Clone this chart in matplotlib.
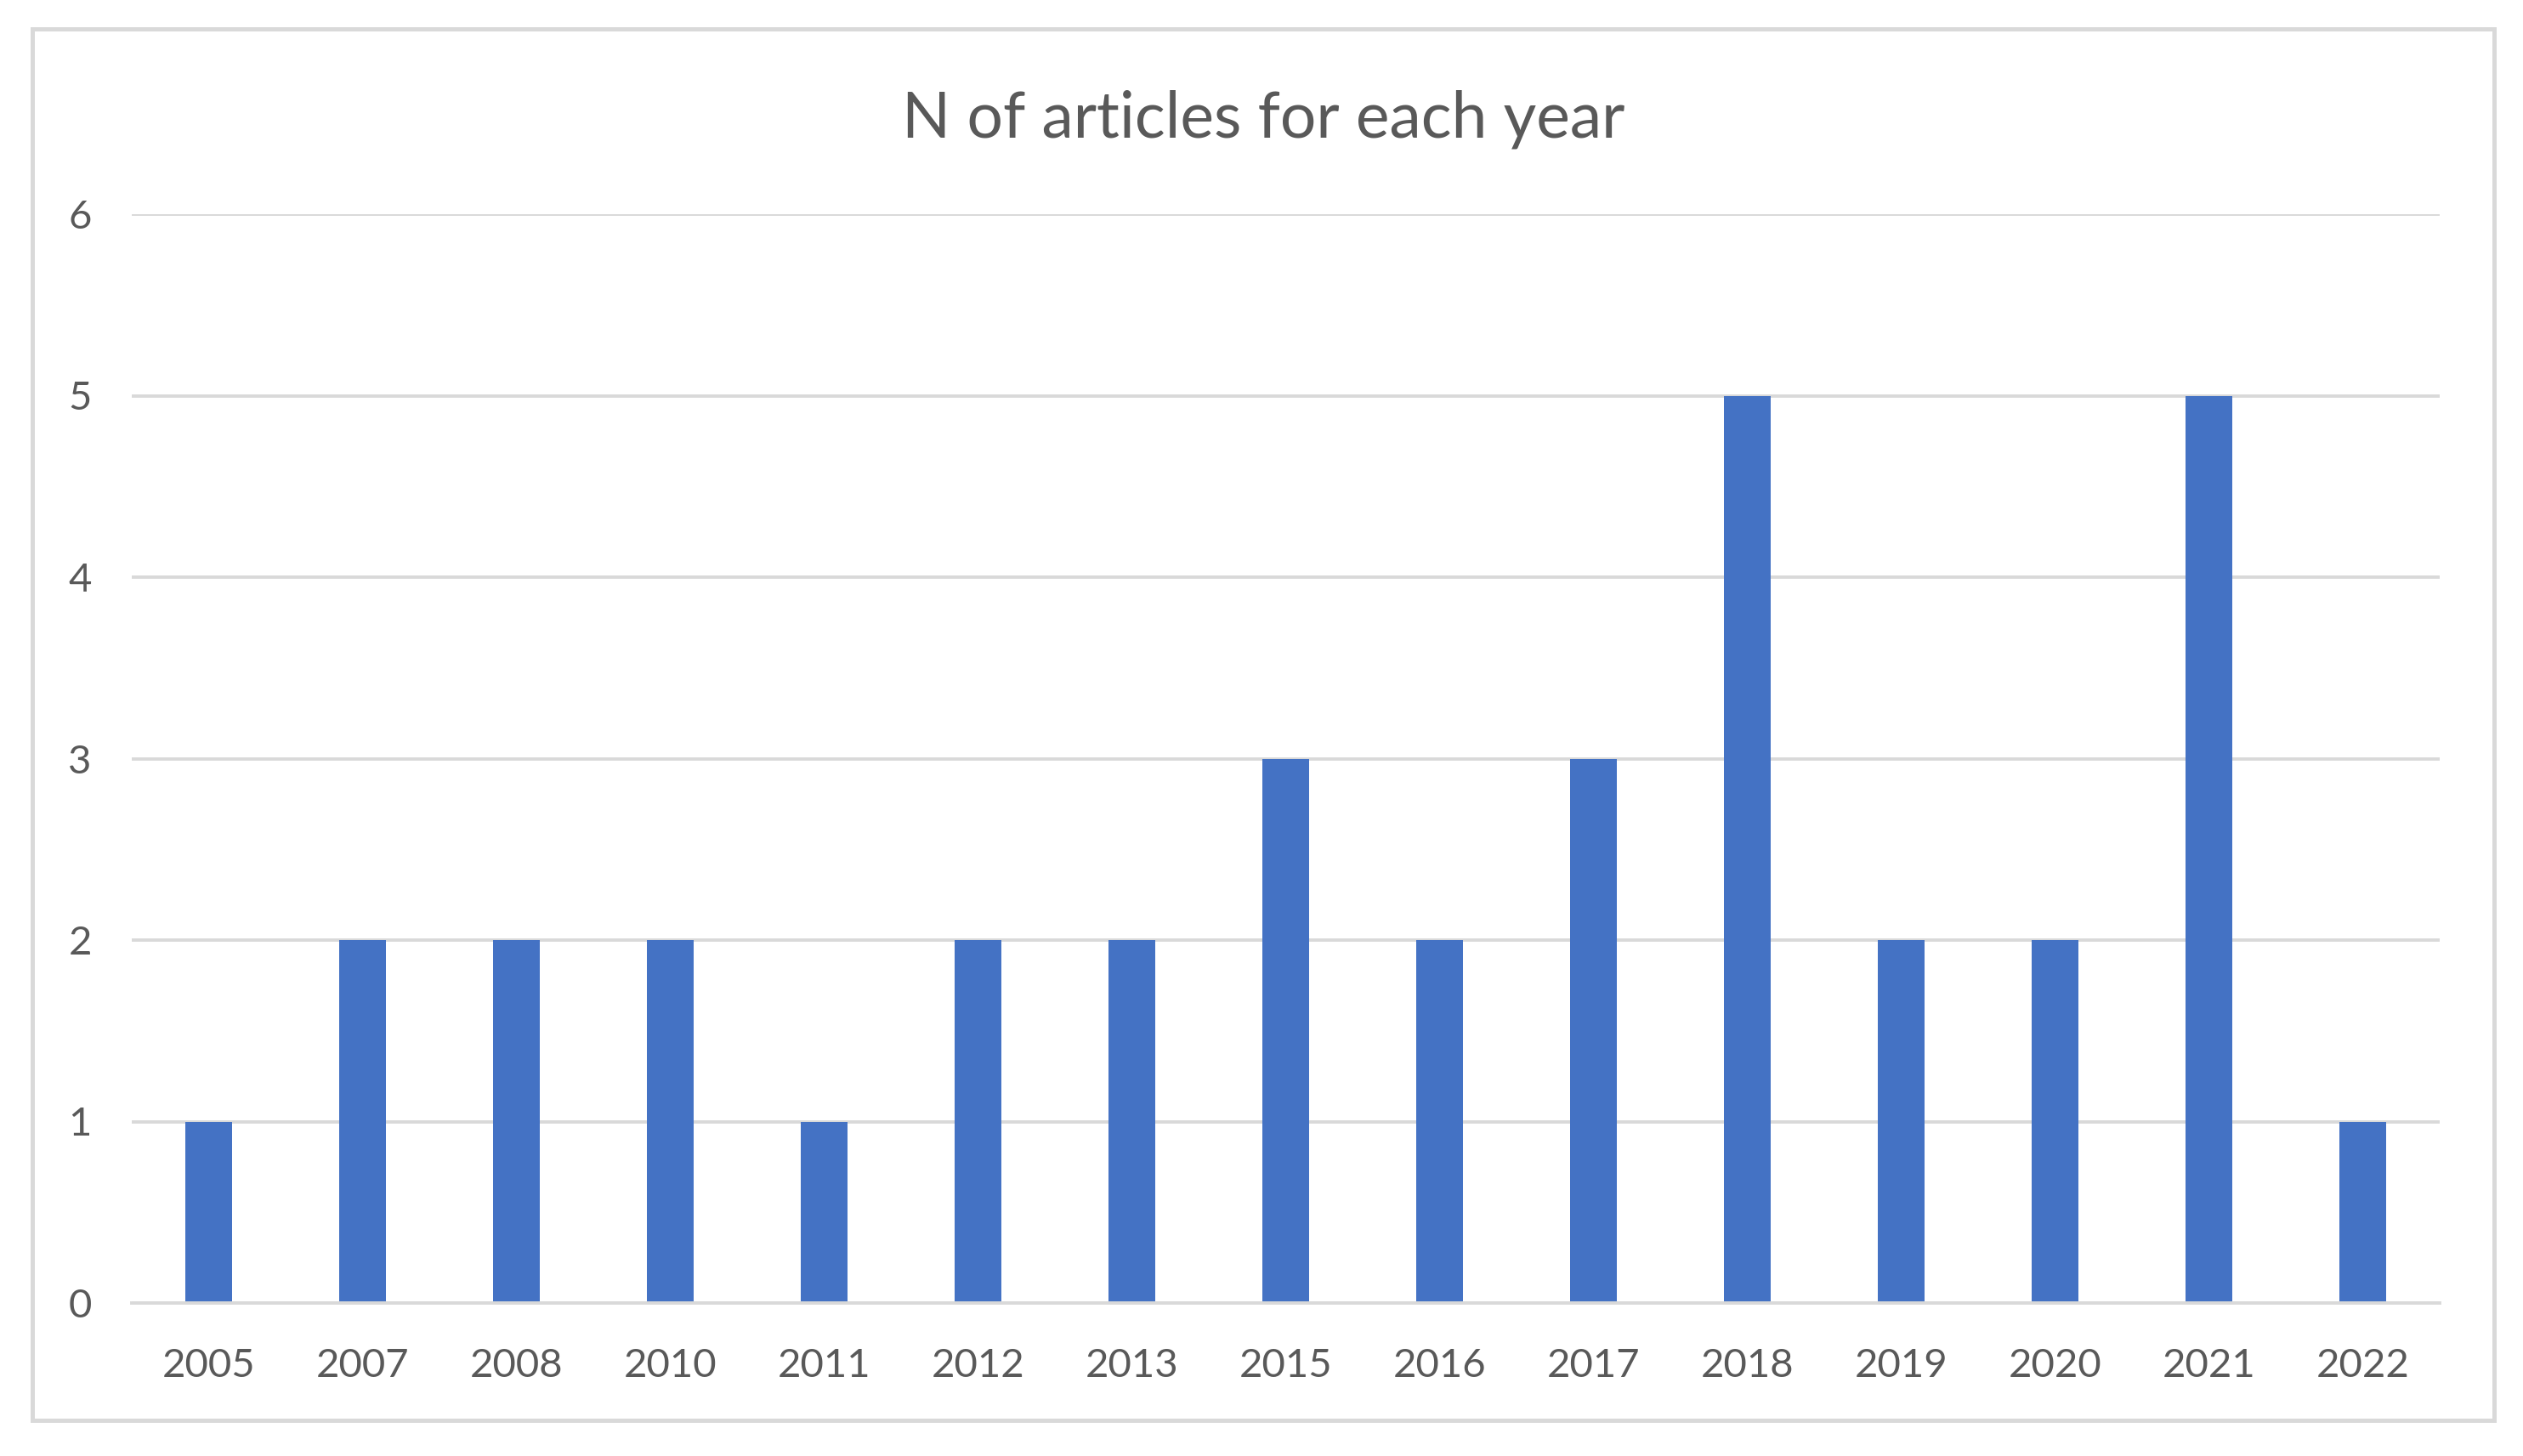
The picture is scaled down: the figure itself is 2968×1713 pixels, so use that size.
import matplotlib
matplotlib.use("Agg")
import matplotlib.pyplot as plt
from matplotlib.patches import Rectangle

years = ["2005", "2007", "2008", "2010", "2011", "2012", "2013", "2015",
         "2016", "2017", "2018", "2019", "2020", "2021", "2022"]
counts = [1, 2, 2, 2, 1, 2, 2, 3, 2, 3, 5, 2, 2, 5, 1]
yticks = [0, 1, 2, 3, 4, 5, 6]

W, H, DPI = 2968, 1713, 200
plt.rcParams['font.family'] = ['Lato', 'DejaVu Sans']
fig = plt.figure(figsize=(W / DPI, H / DPI), dpi=DPI)
fig.patch.set_facecolor("white")

# outer chart border
fig.patches.append(Rectangle((38 / W, 1 - 1671 / H), (2934 - 38) / W, (1671 - 34) / H,
                             transform=fig.transFigure, fill=False,
                             edgecolor="#d9d9d9", linewidth=1.8, zorder=0))

ax = fig.add_axes([155 / W, 180 / H, (2870 - 155) / W, (1461 - 180) / H])
x = list(range(len(years)))
ax.bar(x, counts, width=0.30, color="#4472C4", zorder=3)
ax.set_xlim(-0.5, len(years) - 0.5)
ax.set_ylim(0, 6)
ax.set_yticks(yticks)
ax.set_xticks(x)
ax.set_xticklabels(years)
ax.grid(axis="y", color="#d9d9d9", linewidth=1.4, zorder=0)
for s in ["top", "right", "left"]:
    ax.spines[s].set_visible(False)
ax.spines["bottom"].set_color("#d9d9d9")
ax.spines["bottom"].set_linewidth(1.4)
ax.spines["bottom"].set_zorder(4)
ax.tick_params(axis="both", length=0, labelsize=17, labelcolor="#595959")
ax.tick_params(axis="y", pad=17)
ax.tick_params(axis="x", pad=19)

fig.text(0.5007, 1 - 140 / H, "N of articles for each year", ha="center", va="center",
         fontsize=27, color="#595959")

fig.savefig("out.png", dpi=DPI)
